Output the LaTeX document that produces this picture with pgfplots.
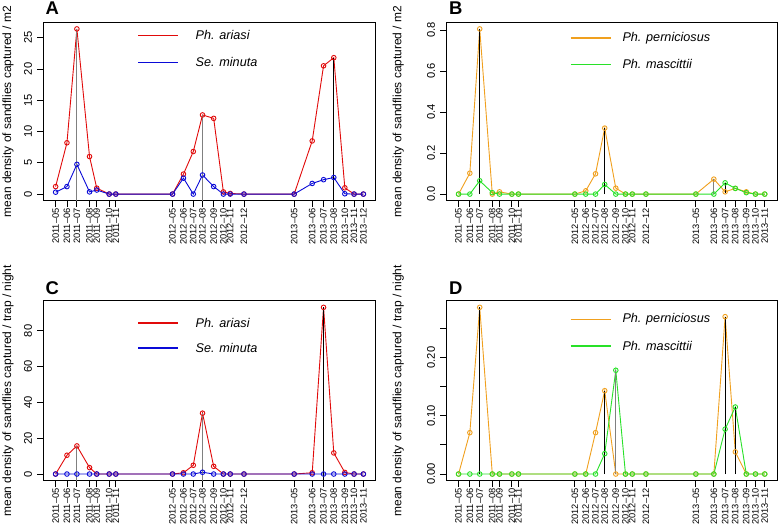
\documentclass[border=0pt]{standalone}
\usepackage{fontspec}
\setmainfont{Liberation Sans}
\usepackage{pgfplots}
\pgfplotsset{compat=1.18}
\usepackage{pgfplotstable}

\definecolor{cred}{RGB}{225,10,10}
\definecolor{cblue}{RGB}{10,10,215}
\definecolor{corange}{RGB}{240,160,30}
\definecolor{cgreen}{RGB}{40,225,40}
\definecolor{cgray}{RGB}{128,128,128}

\pgfplotstableread{
x      ariasi minuta pern  masc
0      1.2    0.3    0     0
11.3   8.2    1.2    0.102 0
21.2   26.4   4.75   0.806 0.065
33.8   6.0    0.35   0     0.007
41     0.95   0.65   0.011 0
53.4   0      0      0     0
60     0      0      0     0
116.5  0      0      0     0
127.4  3.2    2.55   0.016 0
137.2  6.8    0      0.099 0
146.4  12.65  3.05   0.322 0.047
157.5  12.1   1.2    0.029 0
167.2  0.35   0      0     0
174    0.1    0      0     0
187.7  0      0      0     0
237.7  0      0      0     0
255.7  8.5    1.7    0.073 0
267    20.5   2.3    0.011 0.055
277.2  21.8   2.65   0.028 0.028
288.2  1.0    0.05   0.011 0.007
297.4  0      0      0     0
306.7  0      0      0     0
}\tabTop

\pgfplotstableread{
x      ariasi minuta pern  masc
0      0      0      0     0
11.3   10.5   0      0.071 0
21.2   15.7   0      0.286 0
33.8   3.6    0      0     0
41     0      0      0     0
53.4   0      0      0     0
60     0      0      0     0
116.5  0      0      0     0
127.4  0.7    0      0     0
137.2  4.9    0      0.071 0
146.4  34.0   1.0    0.143 0.035
157.5  4.3    0      0     0.178
167.2  0      0      0     0
174    0      0      0     0
187.7  0      0      0     0
237.7  0      0      0     0
255.7  0.7    0      0     0
267    93.1   0      0.270 0.077
277.2  11.8   0      0.038 0.115
288.2  0.9    0      0     0
297.4  0      0      0     0
306.7  0      0      0     0
}\tabBot

\newcommand\legfont{\fontsize{12.7}{14}\selectfont\itshape}
% legend row: #1 colour, #2 x start, #3 x end, #4 y, #5 text x, #6 text
\newcommand\legrow[6]{%
  \addplot[#1, line width=1.6bp, mark=none] coordinates {(#2,#4) (#3,#4)};
  \node[anchor=west, inner sep=0pt, font=\legfont] at (axis cs:#5,#4) {#6};}

\pgfplotsset{
  panel/.style={
    scale only axis, anchor=south west,
    xmin=-12.27, xmax=318.97,
    axis line style={line width=0.8bp},
    tick align=outside, tick style={black, line width=0.8bp}, major tick length=6bp,
    xtick={0,11.3,21.2,33.8,41,53.4,60,116.5,127.4,137.2,146.4,157.5,167.2,174,187.7,237.7,255.7,267,277.2,288.2,297.4,306.7},
    xtick pos=bottom, ytick pos=left,
    xticklabel style={rotate=90, anchor=east, font=\fontsize{9.3}{10}\selectfont, inner sep=0pt},
    xticklabel shift=1.5bp,
    yticklabel style={rotate=90, anchor=south, inner sep=0pt, font=\fontsize{11.2}{12}\selectfont},
    yticklabel shift=5bp,
    label style={font=\fontsize{12}{14}\selectfont},
    /pgf/number format/assume math mode=true,
    every axis plot/.append style={line width=0.9bp, mark=o, mark size=2.3bp, mark options={solid}},
  },
  vline/.style={mark=none, line width=1.2bp},
}

\begin{document}
\begin{tikzpicture}
\path[use as bounding box] (0,0) rectangle (778bp,528bp);

% ---------------- A ----------------
\begin{axis}[panel, at={(43.3bp,327.3bp)}, width=332.4bp, height=178.4bp,
  ymin=-1.056, ymax=27.456,
  ytick={0,5,10,15,20,25}, yticklabels={0,5,10,15,20,25},
  xticklabels={2011--05,2011--06,2011--07,2011--08,2011--09,2011--10,2011--11,2012--05,2012--06,2012--07,2012--08,2012--09,2012--10,2012--11,2012--12,2013--05,2013--06,2013--07,2013--08,2013--10,2013--11,2013--12},
  ylabel={mean density of sandflies captured / m2},
  ylabel style={at={(axis description cs:-0.106,0.5)}, anchor=center}]
\addplot[cred] table[x=x,y=ariasi]{\tabTop};
\addplot[cblue] table[x=x,y=minuta]{\tabTop};
\addplot[vline, cgray] coordinates {(21.2,-1.056) (21.2,26.4)};
\addplot[vline, cgray] coordinates {(146.4,-1.056) (146.4,12.65)};
\addplot[vline, black] coordinates {(277.2,-1.056) (277.2,21.8)};
\legrow{cred}{82.10}{121.96}{25.35}{139.4}{Ph. ariasi}
\legrow{cblue}{82.10}{121.96}{21.05}{139.4}{Se. minuta}
\end{axis}

% ---------------- B ----------------
\begin{axis}[panel, at={(446.3bp,327.3bp)}, width=330.7bp, height=178.4bp,
  ymin=-0.0322, ymax=0.8382,
  ytick={0,0.2,0.4,0.6,0.8}, yticklabels={0.0,0.2,0.4,0.6,0.8},
  xticklabels={2011--05,2011--06,2011--07,2011--08,2011--09,2011--10,2011--11,2012--05,2012--06,2012--07,2012--08,2012--09,2012--10,2012--11,2012--12,2013--05,2013--06,2013--07,2013--08,2013--09,2013--10,2013--11},
  ylabel={mean density of sandflies captured / m2},
  ylabel style={at={(axis description cs:-0.145,0.5)}, anchor=center}]
\addplot[corange] table[x=x,y=pern]{\tabTop};
\addplot[cgreen] table[x=x,y=masc]{\tabTop};
\addplot[vline, black] coordinates {(21.2,0) (21.2,0.806)};
\addplot[vline, black] coordinates {(146.4,0) (146.4,0.322)};
\addplot[vline, cgray] coordinates {(255.7,0) (255.7,0.073)};
\addplot[vline, black] coordinates {(267,0.005) (267,0.055)};
\legrow{corange}{112.34}{152.41}{0.7605}{164.02}{Ph. perniciosus}
\legrow{cgreen}{112.34}{152.41}{0.6325}{164.02}{Ph. mascittii}
\end{axis}

% ---------------- C ----------------
\begin{axis}[panel, at={(43.3bp,47.3bp)}, width=332.4bp, height=180bp,
  ymin=-3.724, ymax=96.82,
  ytick={0,20,40,60,80}, yticklabels={0,20,40,60,80},
  xticklabels={2011--05,2011--06,2011--07,2011--08,2011--09,2011--10,2011--11,2012--05,2012--06,2012--07,2012--08,2012--09,2012--10,2012--11,2012--12,2013--05,2013--06,2013--07,2013--08,2013--09,2013--10,2013--11},
  ylabel={mean density of sandflies captured / trap / night},
  ylabel style={at={(axis description cs:-0.106,0.5)}, anchor=center}]
\addplot[cred] table[x=x,y=ariasi]{\tabBot};
\addplot[cblue] table[x=x,y=minuta]{\tabBot};
\addplot[vline, cgray] coordinates {(21.2,-3.724) (21.2,15.7)};
\addplot[vline, cgray] coordinates {(146.4,-3.724) (146.4,34.0)};
\addplot[vline, black] coordinates {(267,-3.724) (267,93.1)};
\legrow{cred}{82.10}{121.96}{84.5}{139.4}{Ph. ariasi}
\legrow{cblue}{82.10}{121.96}{70.5}{139.4}{Se. minuta}
\end{axis}

% ---------------- D ----------------
\begin{axis}[panel, at={(446.3bp,47.3bp)}, width=330.7bp, height=180bp,
  ymin=-0.01144, ymax=0.2974,
  ytick={0,0.05,0.10,0.15,0.20,0.25}, yticklabels={0.00,,0.10,,0.20,},
  xticklabels={2011--05,2011--06,2011--07,2011--08,2011--09,2011--10,2011--11,2012--05,2012--06,2012--07,2012--08,2012--09,2012--10,2012--11,2012--12,2013--05,2013--06,2013--07,2013--08,2013--09,2013--10,2013--11},
  ylabel={mean density of sandflies captured / trap / night},
  ylabel style={at={(axis description cs:-0.145,0.5)}, anchor=center}]
\addplot[corange] table[x=x,y=pern]{\tabBot};
\addplot[cgreen] table[x=x,y=masc]{\tabBot};
\addplot[vline, black] coordinates {(21.2,0) (21.2,0.286)};
\addplot[vline, black] coordinates {(146.4,0) (146.4,0.143)};
\addplot[vline, cgray] coordinates {(157.5,0) (157.5,0.178)};
\addplot[vline, black] coordinates {(267,0) (267,0.270)};
\addplot[vline, black] coordinates {(277.2,0) (277.2,0.115)};
\legrow{corange}{112.34}{152.41}{0.2652}{164.02}{Ph. perniciosus}
\legrow{cgreen}{112.34}{152.41}{0.2192}{164.02}{Ph. mascittii}
\end{axis}

\node[anchor=west, font=\fontsize{18.5}{18}\selectfont\bfseries, inner sep=0pt] at (45.5bp,519.5bp) {A};
\node[anchor=west, font=\fontsize{18.5}{18}\selectfont\bfseries, inner sep=0pt] at (449bp,519.5bp) {B};
\node[anchor=west, font=\fontsize{18.5}{18}\selectfont\bfseries, inner sep=0pt] at (45.5bp,240bp) {C};
\node[anchor=west, font=\fontsize{18.5}{18}\selectfont\bfseries, inner sep=0pt] at (449bp,240bp) {D};
\end{tikzpicture}
\end{document}
